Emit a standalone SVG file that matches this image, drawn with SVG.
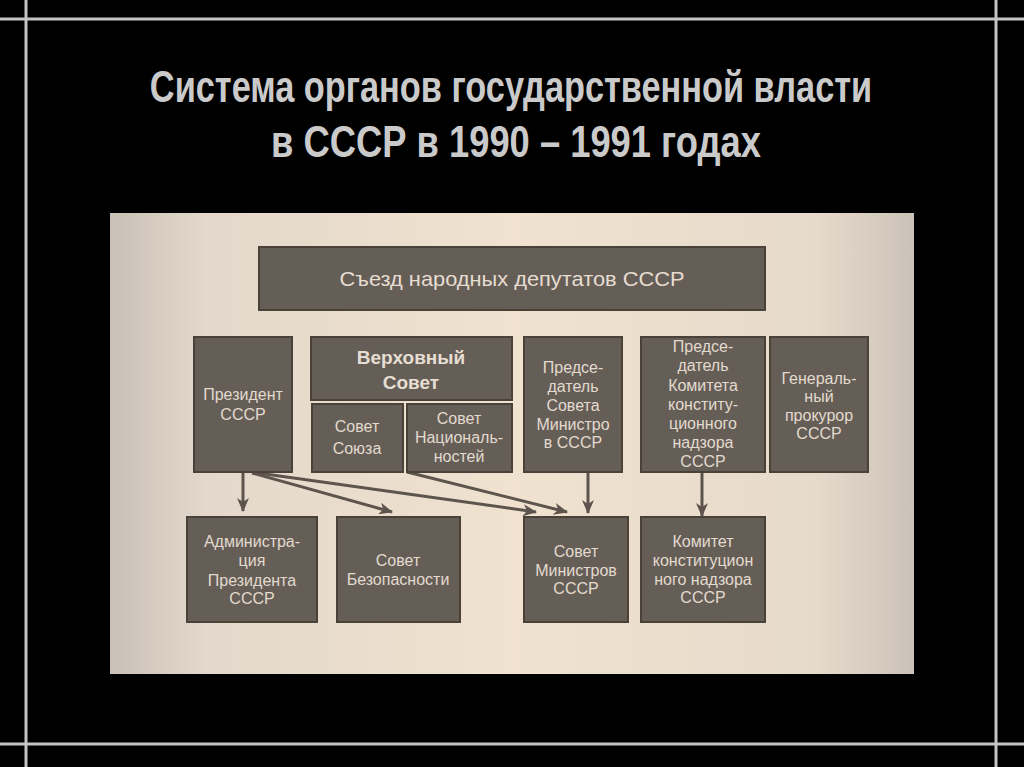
<svg xmlns="http://www.w3.org/2000/svg" width="1024" height="767" viewBox="0 0 1024 767">
<defs>
<linearGradient id="panel" x1="0" y1="0" x2="1" y2="0">
<stop offset="0" stop-color="#c9c0b6"/>
<stop offset="0.12" stop-color="#e3d8cb"/>
<stop offset="0.5" stop-color="#f0e2cf"/>
<stop offset="0.88" stop-color="#e6dacb"/>
<stop offset="1" stop-color="#cbc2b8"/>
</linearGradient>
<marker id="arr" viewBox="0 0 14 12" refX="13" refY="6" markerWidth="14" markerHeight="12" markerUnits="userSpaceOnUse" orient="auto">
<path d="M0,0 L14,6 L0,12 L4,6 z" fill="#5d554d"/>
</marker>
</defs>
<style>
.frame{stroke:#c4c4c4;stroke-width:3;fill:none}
.title{font-family:"Liberation Sans Narrow","Liberation Sans",Arial,sans-serif;font-weight:bold;font-size:44px;fill:#cacaca;text-anchor:middle}
.box{fill:#655e56;stroke:#4a4239;stroke-width:2}
.t{font-family:"Liberation Sans",Arial,sans-serif;font-size:16px;fill:#e2dacf;text-anchor:middle}
.tb{font-family:"Liberation Sans",Arial,sans-serif;font-size:19px;font-weight:bold;fill:#e6ded3;text-anchor:middle}
.tn{font-family:"Liberation Sans Narrow","Liberation Sans",Arial,sans-serif;font-size:21px;fill:#e6ddd2;text-anchor:middle}
.con{stroke:#5d554d;stroke-width:3;fill:none;marker-end:url(#arr)}
</style>
<rect x="0" y="0" width="1024" height="767" fill="#000"/>
<line class="frame" x1="0" y1="19" x2="1024" y2="19"/>
<line class="frame" x1="0" y1="744" x2="1024" y2="744"/>
<line class="frame" x1="26" y1="0" x2="26" y2="767"/>
<line class="frame" x1="996" y1="0" x2="996" y2="767"/>
<g id="title">
<text class="title" transform="translate(511,102) scale(0.78,1)" x="0" y="0" textLength="926" lengthAdjust="spacingAndGlyphs">Система органов государственной власти</text>
<text class="title" transform="translate(516,157) scale(0.78,1)" x="0" y="0" textLength="628" lengthAdjust="spacingAndGlyphs">в СССР в 1990 – 1991 годах</text>
</g>
<rect x="110" y="213" width="804" height="461" fill="url(#panel)"/>
<g id="connectors">
<line class="con" x1="243" y1="473" x2="243" y2="511"/>
<line class="con" x1="252" y1="473" x2="392" y2="512"/>
<line class="con" x1="258" y1="473" x2="536" y2="512"/>
<line class="con" x1="407" y1="472" x2="567" y2="512"/>
<line class="con" x1="588" y1="473" x2="588" y2="513"/>
<line class="con" x1="702" y1="473" x2="702" y2="516"/>
</g>
<g id="n-sezd">
<rect class="box" x="259" y="247" width="506" height="63"/>
<text class="tn" x="512" y="286" textLength="345" lengthAdjust="spacingAndGlyphs">Съезд народных депутатов СССР</text>
</g>
<g id="n-president">
<rect class="box" x="194" y="337" width="98" height="135"/>
<text class="t" x="243" y="400">Президент</text>
<text class="t" x="243" y="420">СССР</text>
</g>
<g id="n-verkh">
<rect class="box" x="311" y="337" width="201" height="63"/>
<text class="tb" x="411" y="364">Верховный</text>
<text class="tb" x="411" y="389">Совет</text>
</g>
<g id="n-soyuz">
<rect class="box" x="312" y="404" width="91" height="68"/>
<text class="t" x="357" y="432" font-size="17">Совет</text>
<text class="t" x="357" y="454" font-size="17">Союза</text>
</g>
<g id="n-nats">
<rect class="box" x="407" y="404" width="105" height="68"/>
<text class="t" x="459" y="424">Совет</text>
<text class="t" x="459" y="443">Националь-</text>
<text class="t" x="459" y="462">ностей</text>
</g>
<g id="n-pred-sovmin">
<rect class="box" x="524" y="337" width="98" height="135"/>
<text class="t" x="573" y="373">Предсе-</text>
<text class="t" x="573" y="392">датель</text>
<text class="t" x="573" y="411">Совета</text>
<text class="t" x="573" y="430">Министро</text>
<text class="t" x="573" y="448">в СССР</text>
</g>
<g id="n-pred-komitet">
<rect class="box" x="641" y="337" width="124" height="135"/>
<text class="t" x="703" y="352">Предсе-</text>
<text class="t" x="703" y="371">датель</text>
<text class="t" x="703" y="391">Комитета</text>
<text class="t" x="703" y="410">конститу-</text>
<text class="t" x="703" y="429">ционного</text>
<text class="t" x="703" y="448">надзора</text>
<text class="t" x="703" y="467">СССР</text>
</g>
<g id="n-prokuror">
<rect class="box" x="770" y="337" width="98" height="135"/>
<text class="t" x="819" y="384">Генераль-</text>
<text class="t" x="819" y="402">ный</text>
<text class="t" x="819" y="421">прокурор</text>
<text class="t" x="819" y="439">СССР</text>
</g>
<g id="n-admin">
<rect class="box" x="187" y="517" width="130" height="105"/>
<text class="t" x="252" y="547">Администра-</text>
<text class="t" x="252" y="566">ция</text>
<text class="t" x="252" y="586">Президента</text>
<text class="t" x="252" y="604">СССР</text>
</g>
<g id="n-bezop">
<rect class="box" x="337" y="517" width="123" height="105"/>
<text class="t" x="398" y="566">Совет</text>
<text class="t" x="398" y="585">Безопасности</text>
</g>
<g id="n-sovmin">
<rect class="box" x="524" y="517" width="104" height="105"/>
<text class="t" x="576" y="557">Совет</text>
<text class="t" x="576" y="576">Министров</text>
<text class="t" x="576" y="594">СССР</text>
</g>
<g id="n-komitet">
<rect class="box" x="641" y="517" width="124" height="105"/>
<text class="t" x="703" y="547">Комитет</text>
<text class="t" x="703" y="566">конституцион</text>
<text class="t" x="703" y="585">ного надзора</text>
<text class="t" x="703" y="603">СССР</text>
</g>
</svg>
